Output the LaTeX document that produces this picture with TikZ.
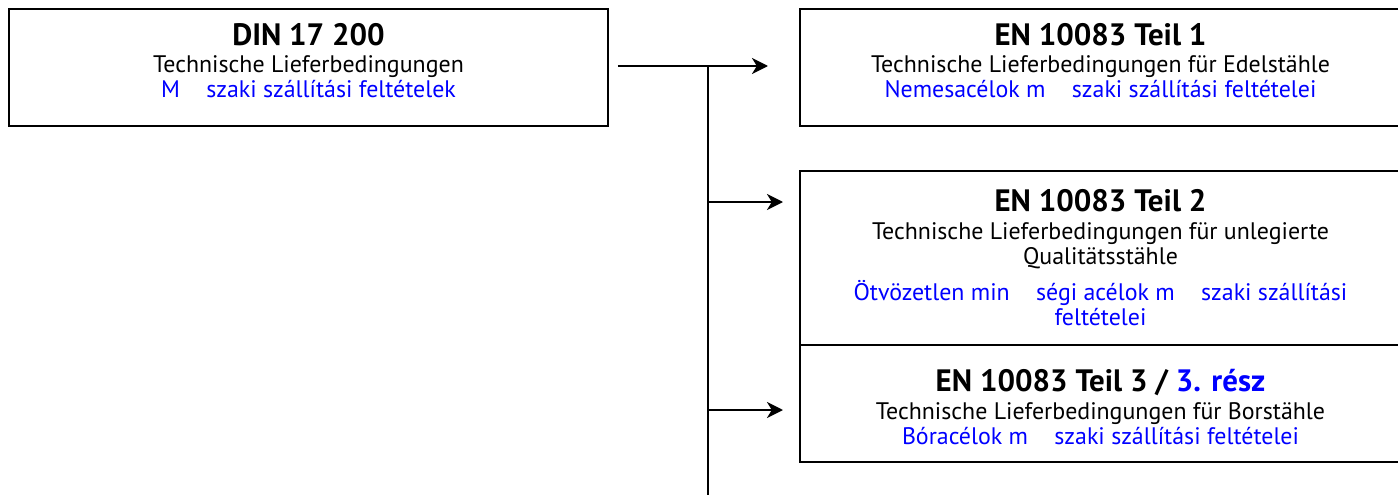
\documentclass[tikz,border=0pt]{standalone}
\usepackage{fontspec}
\setmainfont{PT Sans}
\usetikzlibrary{arrows.meta}

\tikzset{
    normbox/.style={draw, line width=1.4pt, align=center, inner sep=0pt,
        font=\fontsize{17}{17.8}\selectfont},
    conn/.style={line width=2.1pt, -{Stealth[length=4mm, width=4mm, inset=1.2mm]}},
    busline/.style={line width=2.1pt}
}
\newcommand{\ttl}[1]{{\fontsize{22}{23}\selectfont\bfseries #1}}
\newcommand{\hu}[1]{\textcolor{blue}{#1}}
\newcommand{\gap}{\hspace{1.1em}}
\newcommand{\lift}{\rule[-3.5mm]{0pt}{1mm}}

\begin{document}
\begin{tikzpicture}[x=0.25mm, y=-0.25mm]

    \useasboundingbox (0,0) rectangle (1398,495);

    % Left box
    \node[normbox, minimum width=149.75mm, minimum height=29.25mm] (din) at (308.5,67.5)
        {\ttl{DIN 17 200}\\[2pt] Technische Lieferbedingungen\\ \hu{M\gap szaki szállítási feltételek}\lift};

    % Right boxes
    \node[normbox, minimum width=150.25mm, minimum height=29.25mm] (en1) at (1100.5,67.5)
        {\ttl{EN 10083 Teil 1}\\[2pt] Technische Lieferbedingungen für Edelstähle\\ \hu{Nemesacélok m\gap szaki szállítási feltételei}\lift};
    \node[normbox, minimum width=150.25mm, minimum height=43.5mm] (en2) at (1100.5,258)
        {\ttl{EN 10083 Teil 2}\\[2pt] Technische Lieferbedingungen für unlegierte\\ Qualitätsstähle\\[8pt]
        \hu{Ötvözetlen min\gap ségi acélok m\gap szaki szállítási}\\ \hu{feltételei}};
    \node[normbox, minimum width=150.25mm, minimum height=29.25mm] (en3) at (1100.5,403.5)
        {\rule{0pt}{7.5mm}\ttl{EN 10083 Teil 3 / \hu{3. rész}}\\[2pt] Technische Lieferbedingungen für Borstähle\\ \hu{Bóracélok m\gap szaki szállítási feltételei}};

    % Bus
    \coordinate (top) at (708,66);
    \coordinate (bot) at (708,497);
    \coordinate (b2) at (708,202);
    \coordinate (b3) at (708,410);
    \draw[busline] (top) -- (bot);

    % Arrows
    \draw[conn, shorten <=2.25mm, shorten >=7.75mm] (din.east |- top) -- (en1.west |- top);
    \draw[conn, shorten >=4mm] (b2) -- (b2 -| en2.west);
    \draw[conn, shorten >=4mm] (b3) -- (b3 -| en3.west);

\end{tikzpicture}
\end{document}
